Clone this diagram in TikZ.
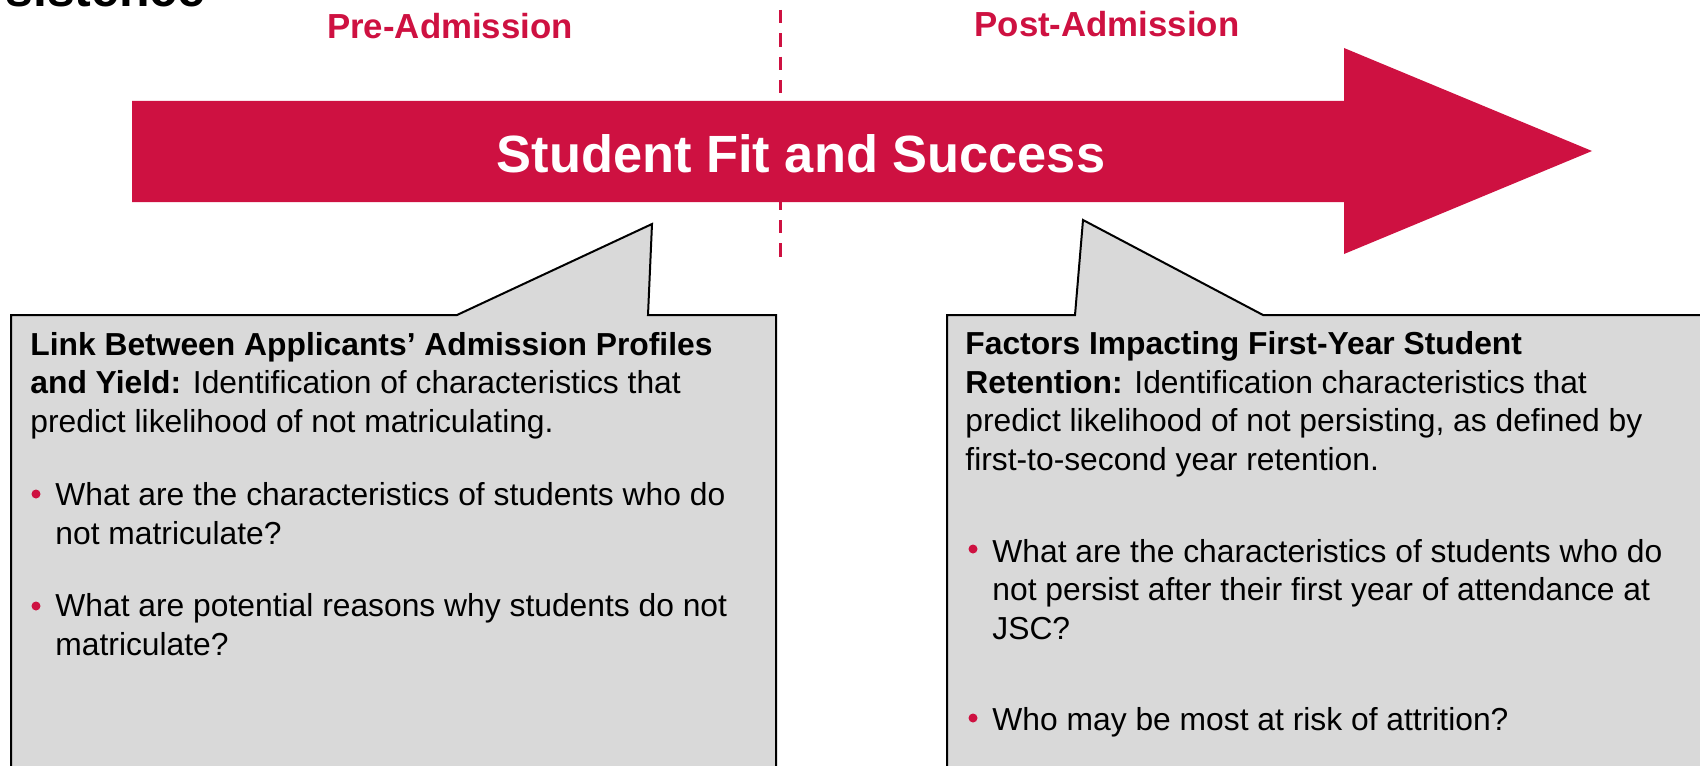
\documentclass[tikz,border=0pt]{standalone}
\usepackage{fontspec}
\setmainfont{Liberation Sans}
\definecolor{jscred}{RGB}{206,17,65}
\definecolor{boxgray}{RGB}{217,217,217}

\begin{document}
\begin{tikzpicture}[x=0.5pt,y=-0.5pt,
    phase/.style={font=\bfseries\fontsize{17.4}{20}\selectfont,text=jscred,inner sep=0,anchor=base},
    para/.style={font=\fontsize{15.9}{19.2}\selectfont,align=left,inner sep=0,anchor=base west},
    dot/.style={fill=jscred},
    callout/.style={draw=black,fill=boxgray,line width=1pt,line join=miter}]
  \useasboundingbox (0,0) rectangle (1700,765);
  \clip (0,0) rectangle (1700,765);
  % heading, cut off at the top
  \node[font=\bfseries\fontsize{25}{30}\selectfont,inner sep=0,anchor=base east] (head) at (206,7) {sistence};
  % the two phases
  \node[phase] (pre) at (450,39) {Pre-Admission};
  \node[phase] (post) at (1107,37) {Post-Admission};
  \draw[jscred,line width=1.6pt,dash pattern=on 6.67pt off 5pt] (780.5,10) -- (780.5,257);
  % big arrow
  \fill[jscred] (132,101) -- (1344,101) -- (1344,48) -- (1592,151)
    -- (1344,254) -- (1344,202) -- (132,202) -- cycle;
  \node[font=\bfseries\fontsize{26.2}{30}\selectfont,text=white,inner sep=0,anchor=base] (title) at (801,172) {Student Fit and Success};
  % callouts
  \draw[callout] (11,800) -- (11,315) -- (457,315) -- (652,224) -- (648,315)
    -- (776,315) -- (776,800) -- cycle;
  \draw[callout] (947,800) -- (947,315) -- (1075,315) -- (1083,220) -- (1263,315)
    -- (1720,315) -- (1720,800) -- cycle;
  % left callout text (anchored at the last line)
  \node[para] (yield) at (30,432) {\textbf{Link Between Applicants’ Admission Profiles}\\
    \textbf{and Yield:} Identification of characteristics that\\
    predict likelihood of not matriculating.};
  \node[para] (q1) at (55,544) {What are the characteristics of students who do\\not matriculate?};
  \node[para] (q2) at (55,655) {What are potential reasons why students do not\\matriculate?};
  \fill[dot] (36,494) circle (4.5);
  \fill[dot] (36,606) circle (4.5);
  % right callout text
  \node[para] (retention) at (965,470) {\textbf{Factors Impacting First-Year Student}\\
    \textbf{Retention:} Identification characteristics that\\
    predict likelihood of not persisting, as defined by\\
    first-to-second year retention.};
  \node[para] (q3) at (992,639) {What are the characteristics of students who do\\not persist after their first year of attendance at\\JSC?};
  \node[para] (q4) at (992,730) {Who may be most at risk of attrition?};
  \fill[dot] (973,549) circle (4.5);
  \fill[dot] (973,718) circle (4.5);
\end{tikzpicture}
\end{document}
